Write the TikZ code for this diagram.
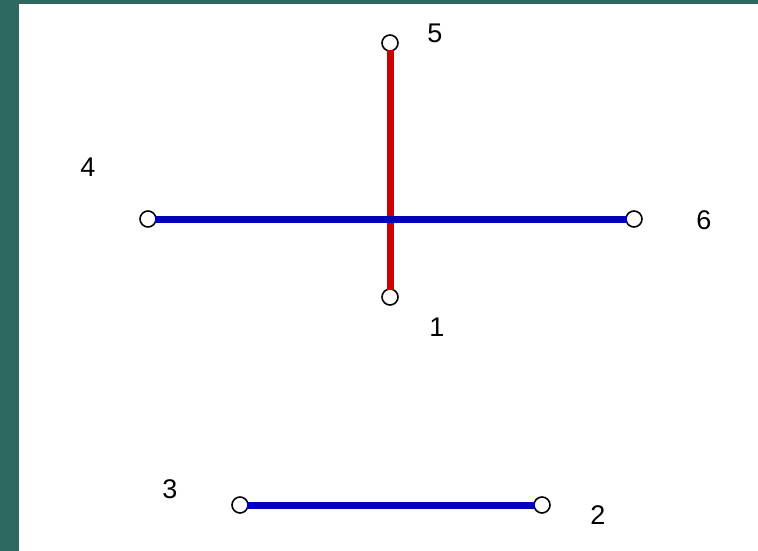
\documentclass[tikz,border=0pt]{standalone}
\usepackage{fontspec}
\setmainfont{Liberation Sans}
\usepackage{xcolor}
\usetikzlibrary{positioning}
\definecolor{frameteal}{RGB}{46,105,97}
\definecolor{edgered}{RGB}{204,0,0}
\definecolor{edgeblue}{RGB}{0,0,190}

\begin{document}
\begin{tikzpicture}[
      x=1pt, y=-1pt,
      vtx/.style={draw, circle, line width=1.6pt, fill=white, minimum size=16pt, inner sep=0pt},
      lbl/.style={font=\fontsize{27}{27}\selectfont, inner sep=0pt},
      redge/.style={edgered, line width=7pt, shorten <=-1.5pt, shorten >=-1.5pt},
      bedge/.style={edgeblue, line width=7pt, shorten <=-1.5pt, shorten >=-1.5pt},
    ]
    \useasboundingbox (0,0) rectangle (758,551);
    \fill[frameteal] (0,0) rectangle (758,4);
    \fill[frameteal] (0,0) rectangle (19,551);
    \node[vtx] (v5) at (390,43) {};
    \node[vtx] (v1) at (390,297) {};
    \node[vtx] (v4) at (148,219) {};
    \node[vtx] (v6) at (634,219) {};
    \node[vtx] (v3) at (240,505) {};
    \node[vtx] (v2) at (542,505) {};
    \draw[redge] (v5) -- (v1);
    \draw[bedge] (v4) -- (v6);
    \draw[bedge] (v3) -- (v2);
    \node[lbl] (l5) at (435,33) {5};
    \node[lbl] (l1) at (437,327) {1};
    \node[lbl] (l4) at (88,167) {4};
    \node[lbl] (l6) at (704,220) {6};
    \node[lbl] (l3) at (170,489) {3};
    \node[lbl] (l2) at (598,515) {2};
  \end{tikzpicture}
\end{document}
